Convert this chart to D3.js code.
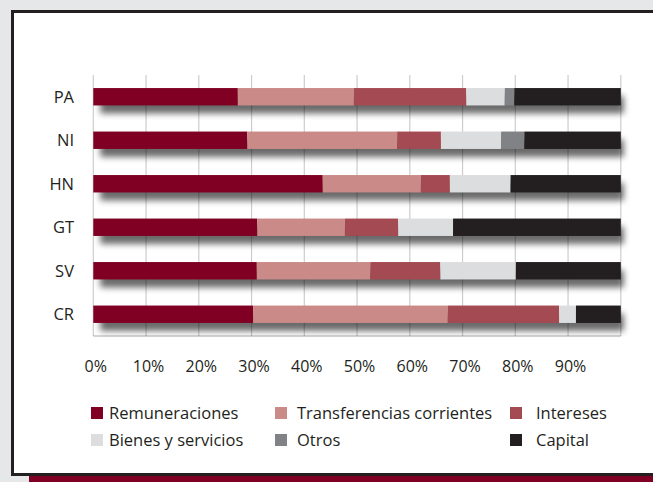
<!DOCTYPE html>
<html>
<head>
<meta charset="utf-8">
<script src="https://cdn.jsdelivr.net/npm/d3@7"></script>
<style>
html,body{margin:0;padding:0;background:#e6e7e8;}
svg{display:block;}
text{font-family:"Open Sans","Noto Sans",sans-serif;fill:#231f20;}
</style>
</head>
<body>
<svg id="c" width="653" height="482"></svg>
<script>
const categories = ["PA","NI","HN","GT","SV","CR"];
const seriesNames = ["Remuneraciones","Transferencias corrientes","Intereses","Bienes y servicios","Otros","Capital"];
const remuneraciones = [27.4, 29.2, 43.5, 31.1, 31.0, 30.3];
const transferencias = [22.0, 28.4, 18.6, 16.6, 21.5, 36.9];
const intereses      = [21.3,  8.3,  5.5, 10.1, 13.3, 21.1];
const bienes         = [ 7.3, 11.4, 11.5, 10.4, 14.3,  3.2];
const otros          = [ 1.8,  4.4,  0.0,  0.0,  0.0,  0.0];
const capital        = [20.2, 18.3, 20.9, 31.8, 19.9,  8.5];
const tickValues = [0,10,20,30,40,50,60,70,80,90];
const tickLabels = ["0%","10%","20%","30%","40%","50%","60%","70%","80%","90%"];
const colors = ["#7f0022","#c98a88","#a34a52","#dcdddf","#808285","#231f20"];

const seriesData = [remuneraciones, transferencias, intereses, bienes, otros, capital];
const rows = categories.map((c,i)=>{
  const o = {cat:c};
  seriesNames.forEach((s,j)=>o[s]=seriesData[j][i]);
  return o;
});

const svg = d3.select("#c");

// frame
svg.append("rect").attr("x",29).attr("y",470).attr("width",700).attr("height",20).attr("fill","#7f0022");
svg.append("rect").attr("x",12.5).attr("y",11.5).attr("width",720).attr("height",463).attr("fill","#fff")
  .attr("stroke","#231f20").attr("stroke-width",3);

const x = d3.scaleLinear().domain([0,100]).range([93.3,620.8]);
const y = d3.scaleBand().domain(categories).range([75,336]).paddingInner(0.6).paddingOuter(0.3);

const defs = svg.append("defs");
const f = defs.append("filter").attr("id","sh").attr("x","-10%").attr("y","-100%").attr("width","130%").attr("height","400%");
f.append("feGaussianBlur").attr("in","SourceGraphic").attr("stdDeviation",3.2);

// shadows
svg.append("g").selectAll("rect").data(categories).join("rect")
  .attr("x",x(0)+7).attr("y",d=>y(d)+8)
  .attr("width",x(100)-x(0)-4).attr("height",y.bandwidth())
  .attr("fill","#000").attr("opacity",0.58).attr("filter","url(#sh)");

// gridlines
const grid = svg.append("g");
grid.selectAll("line").data(d3.range(0,101,10)).join("line")
  .attr("x1",d=>x(d)).attr("x2",d=>x(d)).attr("y1",75).attr("y2",336)
  .attr("stroke","#000").attr("stroke-opacity",0.2).attr("stroke-width",1.2);
grid.append("line").attr("x1",x(0)).attr("x2",x(100)).attr("y1",336).attr("y2",336)
  .attr("stroke","#000").attr("stroke-opacity",0.22).attr("stroke-width",1.5);

// bars
const stack = d3.stack().keys(seriesNames)(rows);
svg.append("g").selectAll("g").data(stack).join("g")
  .attr("fill",(d,i)=>colors[i])
  .selectAll("rect").data(d=>d).join("rect")
  .attr("x",d=>x(d[0])).attr("width",d=>Math.max(0,x(d[1])-x(d[0])))
  .attr("y",d=>y(d.data.cat)).attr("height",y.bandwidth());

// y labels
svg.append("g").selectAll("text").data(categories).join("text")
  .attr("x",74).attr("y",d=>y(d)+y.bandwidth()/2).attr("dy","0.36em")
  .attr("text-anchor","end").attr("font-size",16.5).text(d=>d);

// x tick labels
const xAxis = d3.axisBottom(x).tickValues(tickValues).tickFormat((d,i)=>tickLabels[i]).tickSize(0).tickPadding(0);
const ax = svg.append("g").attr("transform","translate(2,361)").call(xAxis);
ax.select(".domain").remove();
ax.selectAll("text").attr("font-size",16).attr("fill","#231f20").attr("font-family",'"Open Sans","Noto Sans",sans-serif');

// legend
const swX = [91,275,510,91,275,510];
const textX = [109,297,536,109,297,536];
const lg = svg.append("g");
seriesNames.forEach((s,i)=>{
  const r = i<3?0:1;
  const by = r===0?419:446;
  lg.append("rect").attr("x",swX[i]).attr("y",by-12).attr("width",12).attr("height",12).attr("fill",colors[i]);
  lg.append("text").attr("x",textX[i]).attr("y",by).attr("font-size",16.5).text(s);
});
</script>
</body>
</html>
